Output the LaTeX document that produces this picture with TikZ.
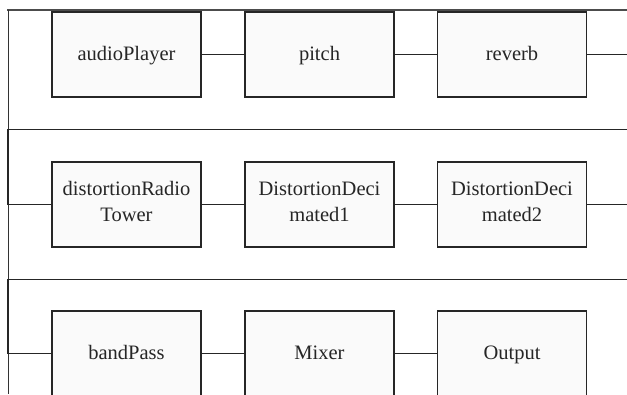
\documentclass[tikz,border=0pt]{standalone}
\usepackage{fontspec}
\setmainfont{Liberation Serif}
% fixed line strut so all labels sit on the same baseline grid
\newcommand{\labelstrut}{\rule[-6pt]{0pt}{24.5pt}}
\begin{document}
\begin{tikzpicture}[x=1pt,y=-1pt,
  block/.style={draw=black!85,line width=1.3pt,fill=black!2,minimum width=149pt,minimum height=85pt,
    inner sep=0pt,align=center,font=\fontsize{20.5}{25.5}\selectfont,text=black!85,
    execute at begin node=\labelstrut,execute at end node=\labelstrut},
  wire/.style={draw=black!85,line width=1.1pt},
  frame/.style={draw=black!80,line width=0.9pt}]
\useasboundingbox (0,0) rectangle (627,394);
\clip (0,0) rectangle (627,394);
% outer frame
\coordinate (tl) at (8,10);
\coordinate (tr) at (627,10);
\coordinate (bl) at (8,394);
\draw[draw=black!70,line width=2.6pt] (7,10) -- (tr);
\draw[frame] (tl) -- (bl);
% row 1
\node[block] (ap) at (126.5,54.5) {audioPlayer};
\node[block] (pi) at (319.5,54.5) {pitch};
\node[block] (rv) at (512,54.5) {reverb};
% row 2
\node[block] (dr) at (126.5,204.5) {distortionRadio\\Tower};
\node[block] (d1) at (319.5,204.5) {DistortionDeci\\mated1};
\node[block] (d2) at (512,204.5) {DistortionDeci\\mated2};
% row 3
\node[block] (bp) at (126.5,353.5) {bandPass};
\node[block] (mx) at (319.5,353.5) {Mixer};
\node[block] (op) at (512,353.5) {Output};
% wrap-around points
\coordinate (r1) at (627,54.5);
\coordinate (w1r) at (627,129.5);
\coordinate (w1l) at (8,129.5);
\coordinate (w1d) at (8,204.5);
\coordinate (r2) at (627,204.5);
\coordinate (w2r) at (627,279.5);
\coordinate (w2l) at (8,279.5);
\coordinate (w2d) at (8,353.5);
% connectors
\draw[wire] (ap) -- (pi);
\draw[wire] (pi) -- (rv);
\draw[wire] (rv.east) -- (r1);
\draw[wire] (w1r) -- (w1l) -- (w1d) -- (dr.west);
\draw[wire] (dr) -- (d1);
\draw[wire] (d1) -- (d2);
\draw[wire] (d2.east) -- (r2);
\draw[wire] (w2r) -- (w2l) -- (w2d) -- (bp.west);
\draw[wire] (bp) -- (mx);
\draw[wire] (mx) -- (op);
\end{tikzpicture}
\end{document}
